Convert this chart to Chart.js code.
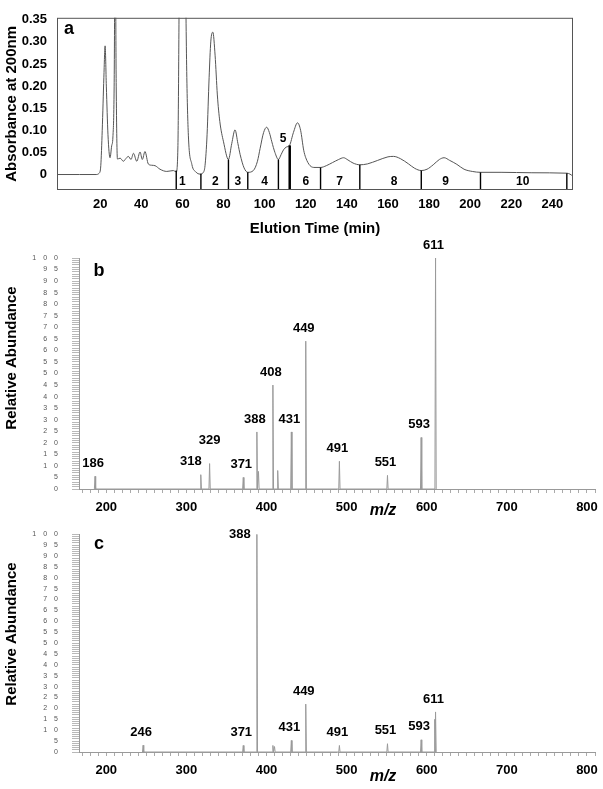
<!DOCTYPE html>
<html>
<head>
<meta charset="utf-8">
<script src="https://cdn.jsdelivr.net/npm/chart.js@4.4.1/dist/chart.umd.min.js"></script>
<style>
  html, body { margin: 0; padding: 0; background: #fff; }
  #wrap { position: relative; width: 603px; height: 789px; }
  canvas { position: absolute; left: 0; }
</style>
</head>
<body>
<div id="wrap">
  <canvas id="chartA" width="603" height="236" style="top:0"></canvas>
  <canvas id="chartB" width="603" height="280" style="top:236px"></canvas>
  <canvas id="chartC" width="603" height="273" style="top:516px"></canvas>
</div>
<script>
// ---- panel a: UV trace ----
const elutionTime = [-1, 10, 18, 19.5, 20.3, 21, 21.8, 22.4, 23, 23.8, 24.8, 25.6, 26.2, 26.8, 27.3, 27.8, 28.4,
  29.7, 31.3, 32.5, 33.7, 35, 36.2, 37.8, 39.4, 40.5, 41.8, 43.4, 45, 46.7, 49.1, 52.4, 55.6, 57, 57.8, 58.6,
  60, 61.4, 62.1, 62.9, 64.6, 66.5, 68.6, 70.2, 71, 72, 73, 73.8, 74.8, 75.9, 77, 78.2, 80, 82.4, 84, 85.6,
  87, 88.1, 90, 91.8, 94.5, 96.5, 97.8, 99.5, 101, 102.3, 103.5, 105, 106.7, 108, 109.2, 110.5, 112.1, 114,
  116, 117.5, 119, 120, 122.1, 124.5, 127.2, 130, 133, 136, 138.4, 140.5, 143, 146.3, 150, 155, 160, 162.7,
  166, 170, 173, 176.2, 179, 182, 185, 187.3, 190, 193.5, 197, 201, 205, 215, 230, 247, 248.5, 250];
const absorbance = [0, 0, 0, 0.003, 0.02, 0.1, 0.22, 0.291, 0.2, 0.09, 0.038, 0.065, 0.085, 0.2, 0.55, 0.2, 0.035,
  0.037, 0.03, 0.036, 0.041, 0.034, 0.048, 0.03, 0.051, 0.034, 0.052, 0.024, 0.021, 0.02, 0.012, 0.007, 0.009, 0.006, 0.06, 0.5,
  1.0, 0.5, 0.233, 0.089, 0.023, 0.006, 0.001, 0.005, 0.02, 0.09, 0.22, 0.3, 0.322, 0.27, 0.18, 0.12, 0.074, 0.034, 0.07, 0.101,
  0.07, 0.045, 0.015, 0.005, 0.009, 0.03, 0.059, 0.095, 0.107, 0.095, 0.074, 0.05, 0.034, 0.045, 0.056, 0.062, 0.066, 0.095,
  0.117, 0.1, 0.055, 0.038, 0.02, 0.016, 0.016, 0.02, 0.027, 0.034, 0.038, 0.033, 0.026, 0.022, 0.024, 0.032, 0.04, 0.041,
  0.036, 0.024, 0.014, 0.009, 0.012, 0.022, 0.034, 0.038, 0.032, 0.023, 0.012, 0.007, 0.005, 0.005, 0.004, 0.003, 0.001, -0.004];
const timeTicks = [20, 40, 60, 80, 100, 120, 140, 160, 180, 200, 220, 240];
const absTicks = [0, 0.05, 0.1, 0.15, 0.2, 0.25, 0.3, 0.35];

// fraction cut points (min) and the trace height where each cut line stops
const fractionEdges = [57, 69, 82.4, 91.8, 106.7, 112.2, 127.2, 146.3, 176.2, 205, 247];
const fractionEdgeTop = [0.009, 0.002, 0.034, 0.005, 0.034, 0.066, 0.016, 0.022, 0.009, 0.005, 0.003];
const fractionNames = ['1', '2', '3', '4', '5', '6', '7', '8', '9', '10'];
const fractionLabelTime = [60, 76, 87, 100, 109, 120, 136.5, 163, 188, 225.5];

// ---- panels b and c: MS/MS spectra ----
const mzB = [186, 318, 329, 371, 388, 390, 408, 414, 431, 449, 491, 551, 593, 611];
const abundB = [5.5, 6.2, 11, 5, 24.7, 7.6, 45, 8, 24.7, 64, 12, 5.9, 22.3, 100];
const labelledB = [186, 318, 329, 371, 388, 408, 431, 449, 491, 551, 593, 611];

const mzC = [246, 371, 388, 408, 410, 431, 449, 491, 551, 593, 610, 611];
const abundC = [3.1, 3, 100, 3, 2.5, 5.3, 22, 3, 3.8, 5.6, 15, 18.4];
const labelledC = [246, 371, 388, 431, 449, 491, 551, 593, 611];

const mzTicks = [200, 300, 400, 500, 600, 700, 800];

const FONT = '"Liberation Sans", Arial, Helvetica, sans-serif';
Chart.defaults.font.family = FONT;
Chart.defaults.color = '#000';
Chart.defaults.animation = false;

// free text: panel letters, side titles
const panelText = {
  id: 'panelText',
  afterDraw(chart, args, opts) {
    const ctx = chart.ctx;
    ctx.save();
    ctx.fillStyle = '#000';
    ctx.textAlign = 'center';
    ctx.textBaseline = 'middle';
    (opts.items || []).forEach(it => {
      ctx.save();
      ctx.font = it.font;
      ctx.translate(it.x, it.y);
      if (it.rotate) ctx.rotate(it.rotate);
      ctx.fillText(it.text, 0, 0);
      ctx.restore();
    });
    ctx.restore();
  }
};

// cut lines + fraction numbers + frame for panel a
const fractionMarks = {
  id: 'fractionMarks',
  afterDatasetsDraw(chart) {
    const { ctx, chartArea, scales: { x, y } } = chart;
    ctx.save();
    ctx.strokeStyle = '#000';
    fractionEdges.forEach((t, i) => {
      ctx.lineWidth = i === 5 ? 2.5 : 1.4;
      const px = x.getPixelForValue(t);
      ctx.beginPath();
      ctx.moveTo(px, chartArea.bottom);
      ctx.lineTo(px, y.getPixelForValue(fractionEdgeTop[i]));
      ctx.stroke();
    });
    ctx.fillStyle = '#000';
    ctx.font = 'bold 12px ' + FONT;
    ctx.textAlign = 'center';
    ctx.textBaseline = 'middle';
    fractionNames.forEach((n, i) => {
      const level = n === '5' ? 0.081 : -0.016;
      ctx.fillText(n, x.getPixelForValue(fractionLabelTime[i]), y.getPixelForValue(level));
    });
    ctx.lineWidth = 1;
    ctx.strokeStyle = '#555';
    ctx.strokeRect(chartArea.left + 0.5, chartArea.top + 0.5, chartArea.width - 1, chartArea.height - 1);
    ctx.restore();
  }
};

// m/z numbers over the peaks
const peakLabels = {
  id: 'peakLabels',
  afterDatasetsDraw(chart, args, opts) {
    const { ctx, scales: { x, y } } = chart;
    ctx.save();
    ctx.fillStyle = '#000';
    ctx.font = 'bold 13px ' + FONT;
    ctx.textAlign = 'center';
    ctx.textBaseline = 'middle';
    opts.mz.forEach((m, i) => {
      if (!opts.labelled.includes(m)) return;
      const n = opts.nudge[m] || [0, 0];
      ctx.fillText(String(m), x.getPixelForValue(m) - 2 + n[0], y.getPixelForValue(opts.abund[i]) - 13 + n[1]);
    });
    ctx.restore();
  }
};

new Chart(document.getElementById('chartA'), {
  type: 'line',
  data: {
    datasets: [{
      data: elutionTime.map((t, i) => ({ x: t, y: absorbance[i] })),
      borderColor: '#555',
      borderWidth: 1,
      pointRadius: 0,
      cubicInterpolationMode: 'monotone',
      fill: false
    }]
  },
  options: {
    responsive: false,
    layout: { padding: { top: 12, right: 30, left: 0, bottom: 0 } },
    plugins: {
      legend: { display: false },
      tooltip: { enabled: false },
      panelText: { items: [{ text: 'a', x: 69, y: 29, font: 'bold 18px ' + FONT }] }
    },
    scales: {
      x: {
        type: 'linear', min: -1, max: 250,
        afterBuildTicks: s => { s.ticks = timeTicks.map(v => ({ value: v })); },
        afterFit: s => { s.height = 46; },
        grid: { display: false, drawTicks: false },
        border: { display: false },
        ticks: { padding: 7, autoSkip: false, maxRotation: 0, font: { size: 13, weight: 'bold' } },
        title: { display: true, text: 'Elution Time (min)', font: { size: 15, weight: 'bold' }, padding: { top: 0, bottom: -2 } }
      },
      y: {
        min: -0.035, max: 0.3545,
        afterBuildTicks: s => { s.ticks = absTicks.map(v => ({ value: v })); },
        afterFit: s => { s.width = 57; },
        grid: { display: false, drawTicks: false },
        border: { display: false },
        ticks: { padding: 10, autoSkip: false, font: { size: 13, weight: 'bold' }, callback: v => v === 0 ? '0' : v.toFixed(2) },
        title: { display: true, text: 'Absorbance at 200nm', font: { size: 15, weight: 'bold' }, padding: { top: 3, bottom: 0 } }
      }
    }
  },
  plugins: [fractionMarks, panelText]
});

// stick spectrum: each peak is a narrow spike on the baseline
function sticks(mz, abund) {
  const pts = [];
  mz.forEach((m, i) => {
    pts.push({ x: m - 0.8, y: 0 }, { x: m, y: abund[i] }, { x: m + 0.8, y: 0 });
  });
  return pts;
}

const minorMz = [];
for (let v = 170; v <= 810; v += 10) minorMz.push(v);
const abundSteps = [];
for (let v = 0; v <= 100; v++) abundSteps.push(v);

function makeSpectrum(id, mz, abund, labelled, cfg) {
  return new Chart(document.getElementById(id), {
    type: 'line',
    data: {
      datasets: [{ data: sticks(mz, abund), borderColor: '#9a9a9a', borderWidth: 1, pointRadius: 0, tension: 0 }]
    },
    options: {
      responsive: false,
      layout: { padding: { top: cfg.top, right: 8, left: 0, bottom: 0 } },
      plugins: {
        legend: { display: false },
        tooltip: { enabled: false },
        peakLabels: { mz, abund, labelled, nudge: cfg.nudge },
        panelText: {
          items: [
            { text: cfg.letter, x: 99, y: cfg.letterY, font: 'bold 18px ' + FONT },
            { text: 'Relative Abundance', x: 12, y: cfg.titleY, rotate: -Math.PI / 2, font: 'bold 15px ' + FONT },
            { text: 'm/z', x: 383, y: cfg.top + 231 + 22, font: 'italic bold 16px ' + FONT }
          ]
        }
      },
      scales: {
        x: {
          type: 'linear', min: 166, max: 810,
          afterBuildTicks: s => { s.ticks = minorMz.map(v => ({ value: v })); },
          afterFit: s => { s.height = cfg.xHeight; },
          grid: { drawOnChartArea: false, drawTicks: true, tickLength: 4, color: '#aaa' },
          border: { color: '#999' },
          ticks: {
            padding: 7, autoSkip: false, maxRotation: 0, font: { size: 13, weight: 'bold' },
            callback: v => mzTicks.includes(v) ? String(v) : ''
          }
        },
        y: {
          min: 0, max: 100,
          afterBuildTicks: s => { s.ticks = abundSteps.map(v => ({ value: v })); },
          afterFit: s => { s.width = 79; },
          grid: { drawOnChartArea: false, drawTicks: true, tickLength: 7, color: '#b8b8b8' },
          border: { color: '#999' },
          ticks: {
            padding: 14, autoSkip: false, color: '#555', font: { size: 7 },
            callback: v => v % 5 === 0 ? String(v).split('').join('\u2003') : ''
          }
        }
      }
    },
    plugins: [peakLabels, panelText]
  });
}

makeSpectrum('chartB', mzB, abundB, labelledB, {
  top: 22, xHeight: 27, letter: 'b', letterY: 35, titleY: 122,
  nudge: { 318: [-8, 0], 329: [2, -10] }
});
makeSpectrum('chartC', mzC, abundC, labelledC, {
  top: 8, xHeight: 37, letter: 'c', letterY: 28, titleY: 118,
  nudge: { 388: [-15, 13] }
});
</script>
</body>
</html>
